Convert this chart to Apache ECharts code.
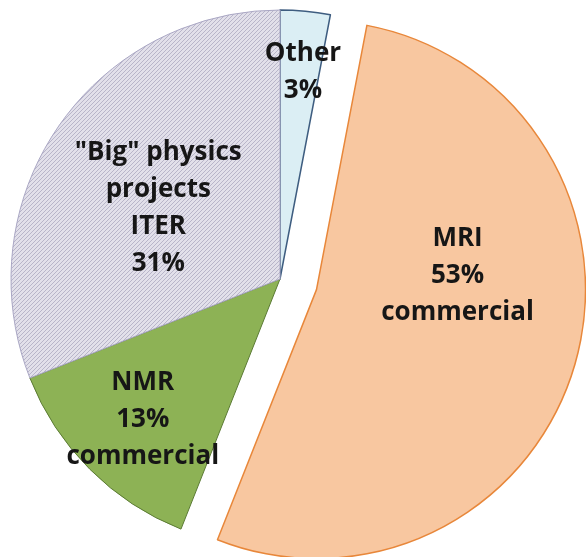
<!DOCTYPE html>
<html>
<head>
<meta charset="utf-8">
<script src="https://cdn.jsdelivr.net/npm/echarts@6/dist/echarts.min.js"></script>
<style>
  html, body { margin: 0; padding: 0; background: #ffffff; }
  #chart { width: 586px; height: 557px; }
</style>
</head>
<body>
<div id="chart"></div>
<script>
// Share of superconducting wire use by application
const categories = ['Other', 'MRI', 'NMR', '"Big" physics\nprojects\nITER'];
const shares = [3, 53, 13, 31];
const notes = ['', 'commercial', 'commercial', ''];

// Diagonal hatch used for the "Big" physics slice
function hatchPattern() {
  const s = 4;
  const c = document.createElement('canvas');
  c.width = s; c.height = s;
  const g = c.getContext('2d');
  g.fillStyle = '#e2e0ea';
  g.fillRect(0, 0, s, s);
  g.strokeStyle = '#b8b5c9';
  g.lineWidth = 1;
  g.beginPath();
  g.moveTo(0, s); g.lineTo(s, 0);
  g.moveTo(-1, 1); g.lineTo(1, -1);
  g.moveTo(s - 1, s + 1); g.lineTo(s + 1, s - 1);
  g.stroke();
  return c;
}

const sliceStyles = [
  { color: '#dbeef4', borderColor: '#3e5d80', borderWidth: 1.5 },
  { color: '#f8c7a0', borderColor: '#e8873a', borderWidth: 1.5 },
  { color: '#8db255', borderColor: '#5b7b34', borderWidth: 1 },
  { color: { image: hatchPattern(), repeat: 'repeat' }, borderColor: '#aaa7c4', borderWidth: 1 }
];
const labelOffsets = [[10, -70], [9, -52], [-40, 43], [-8, 6]];

const data = categories.map((name, i) => ({
  name: name,
  value: shares[i],
  selected: i === 1,
  itemStyle: sliceStyles[i],
  label: { offset: labelOffsets[i] },
  select: { itemStyle: sliceStyles[i], label: { offset: labelOffsets[i] } }
}));

const chart = echarts.init(document.getElementById('chart'), null, { renderer: 'canvas' });
chart.setOption({
  animation: false,
  backgroundColor: '#ffffff',
  series: [{
    type: 'pie',
    center: [280, 279],
    radius: [0, 269],
    startAngle: 90,
    clockwise: true,
    selectedMode: 'single',
    selectedOffset: 38,
    avoidLabelOverlap: false,
    emphasis: { disabled: true },
    label: {
      show: true,
      position: 'inside',
      fontFamily: 'Open Sans',
      fontWeight: 'bold',
      fontSize: 26,
      lineHeight: 37,
      color: '#161616',
      align: 'center',
      formatter: function (p) {
        const i = p.dataIndex;
        let t = p.name + '\n' + p.value + '%';
        if (notes[i]) t += '\n' + notes[i];
        return t;
      }
    },
    labelLine: { show: false },
    data: data
  }]
});
</script>
</body>
</html>
